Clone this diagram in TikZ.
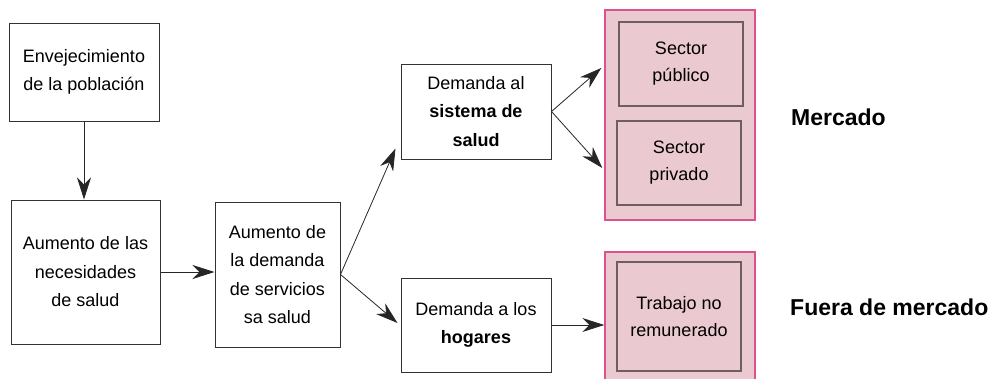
\documentclass[tikz,border=0pt]{standalone}
\usepackage{fontspec}
\setmainfont{Liberation Sans}
\usetikzlibrary{arrows.meta,calc}
\definecolor{pinkfill}{HTML}{EBC9D1}
\definecolor{pinkline}{HTML}{D9548E}
\definecolor{boxline}{HTML}{333333}
\definecolor{innerline}{HTML}{6E5E62}
\tikzset{
	box/.style={draw=boxline, line width=1pt, fill=white, align=center, inner sep=0pt,
		font=\fontsize{18}{28.5}\selectfont},
	outerbox/.style={draw=pinkline, line width=1.4pt, fill=pinkfill, inner sep=0pt},
	innerbox/.style={draw=innerline, line width=1.2pt, fill=pinkfill, align=center, inner sep=0pt,
		font=\fontsize{18}{27}\selectfont},
	tag/.style={anchor=west, inner sep=0pt, font=\fontsize{23}{26}\selectfont\bfseries},
	flow/.style={-{Stealth[length=22pt,width=14pt,inset=7pt]}, line width=0.8pt, draw=black!85}
}

\begin{document}
\begin{tikzpicture}[x=1pt,y=-1pt]
			%%%%% START %%%%%
			
			\clip (0,0) rectangle (995,378);
			\useasboundingbox (0,0) rectangle (995,378);
			
			\node[box, minimum width=150pt, minimum height=98pt] (env) at (84,72) {Envejecimiento\\de la población};
			\node[box, minimum width=149pt, minimum height=144pt] (nec) at (85.5,272) {Aumento de las\\necesidades\\de salud};
			\node[box, minimum width=125pt, minimum height=145pt] (sum) at (277.5,274.5) {Aumento de\\la demanda\\de servicios\\sa salud};
			
			\node[box, minimum width=150pt, minimum height=95pt] (dsis) at (476,111.5) {Demanda al\\\textbf{sistema de}\\\textbf{salud}};
			\node[box, minimum width=150pt, minimum height=94pt] (dhog) at (476,325) {Demanda a los\\\textbf{hogares}};
			
			\node[outerbox, minimum width=150pt, minimum height=210pt] (mkt) at (680,115) {};
			\node[innerbox, minimum width=124pt, minimum height=84pt] (pub) at (681,64) {Sector\\público};
			\node[innerbox, minimum width=124pt, minimum height=84pt] (priv) at (679,163) {Sector\\privado};
			
			\node[outerbox, minimum width=150pt, minimum height=140pt] (fuera) at (680,322) {};
			\node[innerbox, minimum width=124pt, minimum height=109pt] (trab) at (679,316.5) {Trabajo no\\remunerado};
			
			\node[tag] (lmkt) at (791,117) {Mercado};
			\node[tag] (lfuera) at (790,307) {Fuera de mercado};
			
			\draw[flow] (env.south) -- (env.south |- nec.north);
			\draw[flow] (nec.east) -- (nec.east -| sum.west);
			\draw[flow] (sum.east) -- ([xshift=-5pt,yshift=11pt]dsis.south west);
			\draw[flow] (sum.east) -- ([xshift=-3pt,yshift=2pt]dhog.west);
			\draw[flow] (dsis.east) -- ([xshift=-3pt,yshift=-4pt]mkt.west |- pub.center);
			\draw[flow] (dsis.east) -- ([xshift=-2pt,yshift=-5pt]mkt.west |- priv.center);
			\draw[flow] (dhog.east) -- (dhog.east -| fuera.west);
			
			%%%%% END %%%%%
\end{tikzpicture}
\end{document}
